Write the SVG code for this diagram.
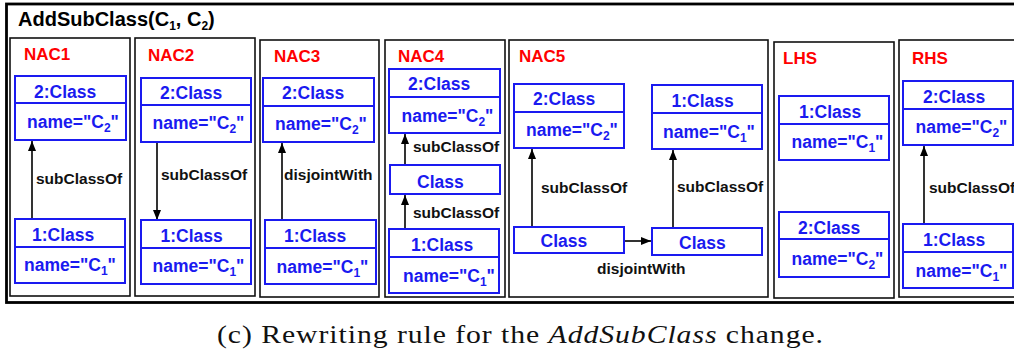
<svg xmlns="http://www.w3.org/2000/svg" width="1014" height="356" viewBox="0 0 1014 356">
  <style>
    .frame { fill: none; stroke: #000; stroke-width: 2.8; }
    .panel { fill: none; stroke: #111; stroke-width: 1.6; }
    .box { fill: #fff; stroke: #1a1af0; stroke-width: 2; }
    .div { stroke: #1a1af0; stroke-width: 2; }
    .title { font-family: "Liberation Sans", Arial, sans-serif; font-weight: bold; font-size: 20px; fill: #000; }
    .rule { font-family: "Liberation Sans", Arial, sans-serif; font-weight: bold; font-size: 17px; fill: #f00; }
    .cls { font-family: "Liberation Sans", Arial, sans-serif; font-weight: bold; font-size: 17.5px; fill: #1a1af0; }
    .sub { font-size: 12px; }
    .lbl { font-family: "Liberation Sans", Arial, sans-serif; font-weight: bold; font-size: 15.5px; fill: #111; }
    .edge { stroke: #000; stroke-width: 1.6; fill: none; marker-end: url(#arr); }
    .cap { font-family: "Liberation Serif", "Times New Roman", serif; font-size: 25px; letter-spacing: 0.8px; fill: #111; }
  </style>
  <defs>
    <marker id="arr" markerWidth="11" markerHeight="9" refX="10" refY="4" orient="auto" markerUnits="userSpaceOnUse">
      <path d="M0,0 L10,4 L0,8 z" fill="#000"/>
    </marker>
  </defs>

  <rect width="1014" height="356" fill="#fff"/>

  <!-- rule frame -->
  <g id="rule-frame">
    <rect class="frame" x="6.5" y="4" width="1020" height="298.5"/>
    <text class="title" x="18" y="25.5">AddSubClass(C<tspan class="sub" dy="4">1</tspan><tspan dy="-4">, C</tspan><tspan class="sub" dy="4">2</tspan><tspan dy="-4">)</tspan></text>
  </g>

  <!-- graph panels -->
  <g id="panel-nac1">
    <rect class="panel" x="10" y="38" width="120" height="258"/>
    <text class="rule" x="24" y="60">NAC1</text>
  </g>
  <g id="panel-nac2">
    <rect class="panel" x="135" y="38" width="120" height="258"/>
    <text class="rule" x="148" y="61">NAC2</text>
  </g>
  <g id="panel-nac3">
    <rect class="panel" x="260" y="40" width="119" height="257"/>
    <text class="rule" x="274" y="62">NAC3</text>
  </g>
  <g id="panel-nac4">
    <rect class="panel" x="385" y="40" width="120" height="257"/>
    <text class="rule" x="398" y="62">NAC4</text>
  </g>
  <g id="panel-nac5">
    <rect class="panel" x="509" y="40" width="259" height="257"/>
    <text class="rule" x="519" y="62">NAC5</text>
  </g>
  <g id="panel-lhs">
    <rect class="panel" x="774" y="42" width="120" height="256"/>
    <text class="rule" x="783" y="64">LHS</text>
  </g>
  <g id="panel-rhs">
    <rect class="panel" x="899" y="40" width="130" height="257"/>
    <text class="rule" x="912" y="64">RHS</text>
  </g>

  <!-- connectors -->
  <g id="connectors">
    <line class="edge" x1="32" y1="219" x2="32" y2="141"/>
    <text class="lbl" x="36" y="184">subClassOf</text>

    <line class="edge" x1="157" y1="142" x2="157" y2="220"/>
    <text class="lbl" x="161" y="180">subClassOf</text>

    <line class="edge" x1="282" y1="220" x2="282" y2="143"/>
    <text class="lbl" x="284" y="180">disjointWith</text>

    <line class="edge" x1="405" y1="165" x2="405" y2="134"/>
    <text class="lbl" x="413" y="152">subClassOf</text>
    <line class="edge" x1="405" y1="229" x2="405" y2="195"/>
    <text class="lbl" x="413" y="218">subClassOf</text>

    <line class="edge" x1="532" y1="227" x2="532" y2="149"/>
    <text class="lbl" x="541" y="193">subClassOf</text>
    <line class="edge" x1="673" y1="228" x2="673" y2="150"/>
    <text class="lbl" x="677" y="192">subClassOf</text>
    <line class="edge" x1="624" y1="241" x2="651" y2="241"/>
    <text class="lbl" x="597" y="274">disjointWith</text>

    <line class="edge" x1="924" y1="224" x2="924" y2="146"/>
    <text class="lbl" x="929" y="193">subClassOf</text>
  </g>

  <!-- class nodes -->
  <g id="nac1-c2">
    <rect class="box" x="15" y="76" width="111" height="64"/>
    <line class="div" x1="15" y1="103" x2="126" y2="103"/>
    <text class="cls" x="34" y="97.5">2:Class</text>
    <text class="cls" x="27" y="128">name="C<tspan class="sub" dy="4">2</tspan><tspan dy="-4">"</tspan></text>
  </g>
  <g id="nac1-c1">
    <rect class="box" x="15" y="219" width="110" height="64"/>
    <line class="div" x1="15" y1="247" x2="125" y2="247"/>
    <text class="cls" x="32" y="241">1:Class</text>
    <text class="cls" x="24" y="271">name="C<tspan class="sub" dy="4">1</tspan><tspan dy="-4">"</tspan></text>
  </g>

  <g id="nac2-c2">
    <rect class="box" x="141" y="78" width="110" height="64"/>
    <line class="div" x1="141" y1="105" x2="251" y2="105"/>
    <text class="cls" x="160" y="98.5">2:Class</text>
    <text class="cls" x="152.5" y="129">name="C<tspan class="sub" dy="4">2</tspan><tspan dy="-4">"</tspan></text>
  </g>
  <g id="nac2-c1">
    <rect class="box" x="141" y="220" width="110" height="64"/>
    <line class="div" x1="141" y1="248" x2="251" y2="248"/>
    <text class="cls" x="160.5" y="241.5">1:Class</text>
    <text class="cls" x="152.5" y="272">name="C<tspan class="sub" dy="4">1</tspan><tspan dy="-4">"</tspan></text>
  </g>

  <g id="nac3-c2">
    <rect class="box" x="263" y="78" width="111" height="64"/>
    <line class="div" x1="263" y1="106" x2="374" y2="106"/>
    <text class="cls" x="282" y="99">2:Class</text>
    <text class="cls" x="275" y="130">name="C<tspan class="sub" dy="4">2</tspan><tspan dy="-4">"</tspan></text>
  </g>
  <g id="nac3-c1">
    <rect class="box" x="265" y="220" width="111" height="64"/>
    <line class="div" x1="265" y1="248" x2="376" y2="248"/>
    <text class="cls" x="284" y="241.5">1:Class</text>
    <text class="cls" x="276.5" y="272.5">name="C<tspan class="sub" dy="4">1</tspan><tspan dy="-4">"</tspan></text>
  </g>

  <g id="nac4-c2">
    <rect class="box" x="389" y="69" width="111" height="64"/>
    <line class="div" x1="389" y1="97" x2="500" y2="97"/>
    <text class="cls" x="408" y="90">2:Class</text>
    <text class="cls" x="401.5" y="121.5">name="C<tspan class="sub" dy="4">2</tspan><tspan dy="-4">"</tspan></text>
  </g>
  <g id="nac4-mid">
    <rect class="box" x="390" y="165" width="110" height="29"/>
    <text class="cls" x="417" y="187.5">Class</text>
  </g>
  <g id="nac4-c1">
    <rect class="box" x="389" y="229" width="110" height="64"/>
    <line class="div" x1="389" y1="257" x2="499" y2="257"/>
    <text class="cls" x="411" y="251">1:Class</text>
    <text class="cls" x="403" y="281.5">name="C<tspan class="sub" dy="4">1</tspan><tspan dy="-4">"</tspan></text>
  </g>

  <g id="nac5-c2">
    <rect class="box" x="514" y="84" width="110" height="64"/>
    <line class="div" x1="514" y1="112" x2="624" y2="112"/>
    <text class="cls" x="533" y="105">2:Class</text>
    <text class="cls" x="526" y="136">name="C<tspan class="sub" dy="4">2</tspan><tspan dy="-4">"</tspan></text>
  </g>
  <g id="nac5-c1">
    <rect class="box" x="652" y="85" width="110" height="64"/>
    <line class="div" x1="652" y1="113" x2="762" y2="113"/>
    <text class="cls" x="671.5" y="106.5">1:Class</text>
    <text class="cls" x="663" y="138">name="C<tspan class="sub" dy="4">1</tspan><tspan dy="-4">"</tspan></text>
  </g>
  <g id="nac5-left">
    <rect class="box" x="514" y="227" width="110" height="26"/>
    <text class="cls" x="540.5" y="247">Class</text>
  </g>
  <g id="nac5-right">
    <rect class="box" x="652" y="228" width="110" height="27"/>
    <text class="cls" x="679" y="249">Class</text>
  </g>

  <g id="lhs-c1">
    <rect class="box" x="779" y="96" width="110" height="64"/>
    <line class="div" x1="779" y1="124" x2="889" y2="124"/>
    <text class="cls" x="799" y="118">1:Class</text>
    <text class="cls" x="791.5" y="147.5">name="C<tspan class="sub" dy="4">1</tspan><tspan dy="-4">"</tspan></text>
  </g>
  <g id="lhs-c2">
    <rect class="box" x="779" y="212" width="110" height="65"/>
    <line class="div" x1="779" y1="239" x2="889" y2="239"/>
    <text class="cls" x="798" y="234">2:Class</text>
    <text class="cls" x="791.5" y="265">name="C<tspan class="sub" dy="4">2</tspan><tspan dy="-4">"</tspan></text>
  </g>

  <g id="rhs-c2">
    <rect class="box" x="903" y="81" width="110" height="64"/>
    <line class="div" x1="903" y1="109" x2="1013" y2="109"/>
    <text class="cls" x="923" y="102.5">2:Class</text>
    <text class="cls" x="915.5" y="133">name="C<tspan class="sub" dy="4">2</tspan><tspan dy="-4">"</tspan></text>
  </g>
  <g id="rhs-c1">
    <rect class="box" x="903" y="224" width="110" height="64"/>
    <line class="div" x1="903" y1="252" x2="1013" y2="252"/>
    <text class="cls" x="923" y="246">1:Class</text>
    <text class="cls" x="915.5" y="276.5">name="C<tspan class="sub" dy="4">1</tspan><tspan dy="-4">"</tspan></text>
  </g>

  <!-- caption -->
  <text class="cap" x="217" y="343" textLength="607" lengthAdjust="spacingAndGlyphs">(c) Rewriting rule for the <tspan font-style="italic">AddSubClass</tspan> change.</text>
</svg>
